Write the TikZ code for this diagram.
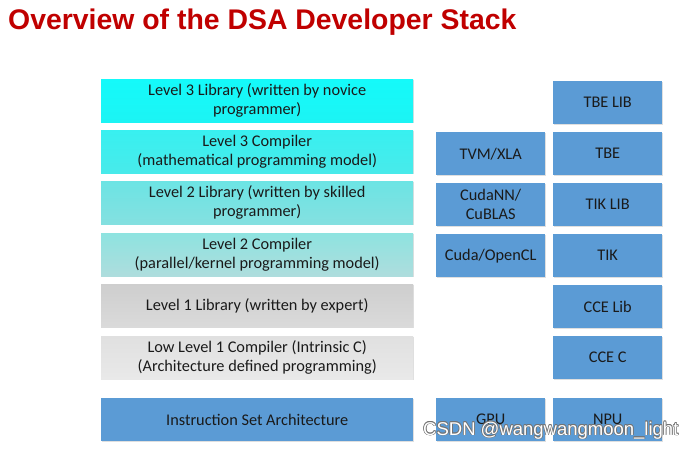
\documentclass[tikz,border=0pt]{standalone}
\usepackage{fontspec}
\setmainfont{Carlito}
\newfontfamily\titlefont{Liberation Sans}
\usetikzlibrary{shadows}
\definecolor{titlered}{HTML}{C00000}
\definecolor{blu}{HTML}{5B9BD5}
\definecolor{txt}{HTML}{1A1A1A}
\tikzset{
  layer/.style={minimum width=312pt, minimum height=43pt, inner sep=0pt, align=center,
    text=txt, font=\fontsize{16.3}{19}\selectfont, anchor=north west,
    drop shadow={shadow xshift=0.6pt, shadow yshift=-0.8pt, opacity=0.25}},
  blk/.style={minimum width=109pt, minimum height=43pt, inner sep=0pt, align=center,
    text=txt, fill=blu, font=\fontsize{16.3}{19}\selectfont, anchor=north west,
    drop shadow={shadow xshift=0.6pt, shadow yshift=-0.8pt, opacity=0.25}},
}
\begin{document}
\begin{tikzpicture}[x=1pt,y=-1pt]
\useasboundingbox (0,0) rectangle (697,448);
\fill[white] (0,0) rectangle (697,448);
\node[anchor=base west, inner sep=0pt, text=titlered, font=\titlefont\bfseries\fontsize{28.4}{32}\selectfont] (title) at (8,29) {Overview of the DSA Developer Stack};
% left column
\node[layer, top color={rgb,255:red,20;green,250;blue,250}, bottom color={rgb,255:red,28;green,244;blue,244}] (l3lib) at (101,79) {Level 3 Library (written by novice\\programmer)};
\node[layer, top color={rgb,255:red,56;green,240;blue,240}, bottom color={rgb,255:red,72;green,234;blue,234}] (l3comp) at (101,130) {Level 3 Compiler\\(mathematical programming model)};
\node[layer, top color={rgb,255:red,108;green,228;blue,228}, bottom color={rgb,255:red,132;green,224;blue,224}] (l2lib) at (101,181) {Level 2 Library (written by skilled\\programmer)};
\node[layer, top color={rgb,255:red,142;green,227;blue,224}, bottom color={rgb,255:red,174;green,221;blue,221}] (l2comp) at (101,233) {Level 2 Compiler\\(parallel/kernel programming model)};
\node[layer, top color={rgb,255:red,206;green,206;blue,206}, bottom color={rgb,255:red,218;green,218;blue,218}] (l1lib) at (101,284) {Level 1 Library (written by expert)};
\node[layer, top color={rgb,255:red,224;green,224;blue,224}, bottom color={rgb,255:red,233;green,233;blue,233}] (l1comp) at (101,336) {Low Level 1 Compiler (Intrinsic C)\\(Architecture defined programming)};
\node[layer, fill=blu] (isa) at (101,398) {Instruction Set Architecture};
% middle column
\node[blk] (tvm) at (436,132) {TVM/XLA};
\node[blk] (cudnn) at (436,183) {CudaNN/\\CuBLAS};
\node[blk] (cuda) at (436,234) {Cuda/OpenCL};
\node[blk] (gpu) at (436,398) {GPU};
% right column
\node[blk] (tbelib) at (553,81) {TBE LIB};
\node[blk] (tbe) at (553,132) {TBE};
\node[blk] (tiklib) at (553,183) {TIK LIB};
\node[blk] (tik) at (553,234) {TIK};
\node[blk] (ccelib) at (553,285) {CCE Lib};
\node[blk] (ccec) at (553,336) {CCE C};
\node[blk] (npu) at (553,398) {NPU};
% watermark
\foreach \dx/\dy in {-0.7/0,0.7/0,0/-0.7,0/0.7,-0.5/-0.5,0.5/0.5,-0.5/0.5,0.5/-0.5}
  \node[anchor=base west, inner sep=0pt, text=black!55, font=\titlefont\fontsize{18.5}{20}\selectfont] at (423+\dx,435+\dy) {CSDN @wangwangmoon\_light};
\node[anchor=base west, inner sep=0pt, text=white, font=\titlefont\fontsize{18.5}{20}\selectfont] (wm) at (423,435) {CSDN @wangwangmoon\_light};
\end{tikzpicture}
\end{document}
